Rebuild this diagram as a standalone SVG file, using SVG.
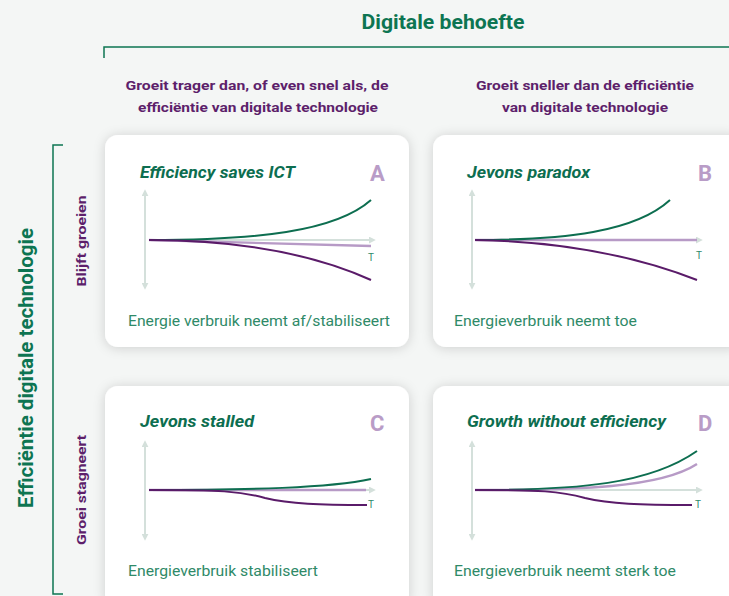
<svg xmlns="http://www.w3.org/2000/svg" width="729" height="596" viewBox="0 0 729 596">
<defs>
<filter id="sh" x="-10%" y="-10%" width="120%" height="120%">
<feDropShadow dx="0" dy="1" stdDeviation="6" flood-color="#000" flood-opacity="0.16"/>
</filter>
<marker id="ar" viewBox="0 0 10 10" refX="6" refY="5" markerWidth="3.5" markerHeight="3.5" orient="auto-start-reverse">
<path d="M0,0 L10,5 L0,10 z" fill="#d4e0db"/>
</marker>
<style>
.card{fill:#fff;filter:url(#sh)}
.ax{stroke:#d4e0db;stroke-width:2;fill:none}
.g{stroke:#0d6e50;stroke-width:2;fill:none}
.p{stroke:#5a1b69;stroke-width:2;fill:none}
.lp{stroke:#b79ac6;stroke-width:2.4;fill:none}
.title{font-family:Roboto,"Liberation Sans",sans-serif;font-weight:bold;font-style:italic;font-size:17px;fill:#0d6e50}
.letter{font-family:Roboto,"Liberation Sans",sans-serif;font-weight:bold;font-size:22px;fill:#b99cc7}
.cap{font-family:Roboto,"Liberation Sans",sans-serif;font-size:14.5px;fill:#2f8a68}
.t{font-family:Roboto,"Liberation Sans",sans-serif;font-size:10px;fill:#2f8a68}
.sub{font-family:Roboto,"Liberation Sans",sans-serif;font-weight:bold;font-size:13.5px;fill:#5d1f6b;text-anchor:middle}
.head{font-family:Roboto,"Liberation Sans",sans-serif;font-weight:bold;font-size:19.5px;fill:#0d7552;text-anchor:middle}
.row{font-family:Roboto,"Liberation Sans",sans-serif;font-weight:bold;font-size:13.5px;fill:#5d1f6b;text-anchor:middle}
.br{stroke:#0d7552;stroke-width:1.5;fill:none}
</style>
</defs>
<rect width="729" height="596" fill="#f4f6f5"/>

<g id="header">
<text class="head" x="443" y="29" textLength="163" lengthAdjust="spacingAndGlyphs">Digitale behoefte</text>
<path class="br" d="M104,58 V47 H729"/>
<text class="sub" x="257" y="90" textLength="263" lengthAdjust="spacingAndGlyphs">Groeit trager dan, of even snel als, de</text>
<text class="sub" x="258" y="112" textLength="240" lengthAdjust="spacingAndGlyphs">efficiëntie van digitale technologie</text>
<text class="sub" x="585" y="90" textLength="218" lengthAdjust="spacingAndGlyphs">Groeit sneller dan de efficiëntie</text>
<text class="sub" x="585" y="112" textLength="166" lengthAdjust="spacingAndGlyphs">van digitale technologie</text>
</g>

<g id="side">
<path class="br" d="M63,145 H53 V594 H63"/>
<text class="head" transform="translate(33,368) rotate(-90)" textLength="280" lengthAdjust="spacingAndGlyphs">Efficiëntie digitale technologie</text>
<text class="row" transform="translate(86,241) rotate(-90)" textLength="91" lengthAdjust="spacingAndGlyphs">Blijft groeien</text>
<text class="row" transform="translate(86,490) rotate(-90)" textLength="110" lengthAdjust="spacingAndGlyphs">Groei stagneert</text>
</g>

<g id="cardA">
<rect class="card" x="105" y="135" width="304" height="212" rx="13"/>
<text class="title" x="140" y="178" textLength="155" lengthAdjust="spacingAndGlyphs">Efficiency saves ICT</text>
<text class="letter" x="370" y="181">A</text>
<line class="ax" x1="145" y1="287" x2="145" y2="192" marker-start="url(#ar)" marker-end="url(#ar)"/>
<line class="ax" x1="149" y1="240" x2="373" y2="240" marker-end="url(#ar)"/>
<path class="lp" d="M149,240 L371,246"/>
<path class="g" d="M149,240 C255,240 335,232 371,200"/>
<path class="p" d="M149,240 C220,240 300,248 371,280"/>
<text class="t" x="368" y="261">T</text>
<text class="cap" x="128" y="326" textLength="262" lengthAdjust="spacingAndGlyphs">Energie verbruik neemt af/stabiliseert</text>
</g>

<g id="cardB">
<rect class="card" x="433" y="135" width="310" height="212" rx="13"/>
<text class="title" x="467" y="178" textLength="123" lengthAdjust="spacingAndGlyphs">Jevons paradox</text>
<text class="letter" x="698" y="181">B</text>
<line class="ax" x1="472" y1="287" x2="472" y2="192" marker-start="url(#ar)" marker-end="url(#ar)"/>
<line class="ax" x1="475" y1="240" x2="700" y2="240" marker-end="url(#ar)"/>
<path class="lp" d="M475,240 L697,240"/>
<path class="g" d="M475,240 C565,240 635,232 670,200"/>
<path class="p" d="M475,240 Q600,242 697,280"/>
<text class="t" x="696" y="259">T</text>
<text class="cap" x="454" y="326" textLength="183" lengthAdjust="spacingAndGlyphs">Energieverbruik neemt toe</text>
</g>

<g id="cardC">
<rect class="card" x="105" y="386" width="304" height="222" rx="13"/>
<text class="title" x="140" y="427" textLength="114" lengthAdjust="spacingAndGlyphs">Jevons stalled</text>
<text class="letter" x="370" y="431">C</text>
<line class="ax" x1="145" y1="538" x2="145" y2="443" marker-start="url(#ar)" marker-end="url(#ar)"/>
<line class="ax" x1="149" y1="490" x2="373" y2="490" marker-end="url(#ar)"/>
<path class="lp" d="M149,490 L366,490"/>
<path class="g" d="M149,490 C250,490 330,488 371,479"/>
<path class="p" d="M149,490 C220,490 240,491 265,498 C290,504 320,505 367,505"/>
<text class="t" x="368" y="508">T</text>
<text class="cap" x="128" y="576" textLength="190" lengthAdjust="spacingAndGlyphs">Energieverbruik stabiliseert</text>
</g>

<g id="cardD">
<rect class="card" x="433" y="386" width="310" height="222" rx="13"/>
<text class="title" x="467" y="427" textLength="199" lengthAdjust="spacingAndGlyphs">Growth without efficiency</text>
<text class="letter" x="698" y="431">D</text>
<line class="ax" x1="472" y1="538" x2="472" y2="443" marker-start="url(#ar)" marker-end="url(#ar)"/>
<line class="ax" x1="475" y1="490" x2="700" y2="490" marker-end="url(#ar)"/>
<path class="lp" d="M475,490 C580,490 660,488 697,464"/>
<path class="g" d="M475,490 C580,490 650,484 697,451"/>
<path class="p" d="M475,490 C540,490 560,491 585,498 C610,504 640,505 692,505"/>
<text class="t" x="695" y="508">T</text>
<text class="cap" x="454" y="576" textLength="222" lengthAdjust="spacingAndGlyphs">Energieverbruik neemt sterk toe</text>
</g>
</svg>
